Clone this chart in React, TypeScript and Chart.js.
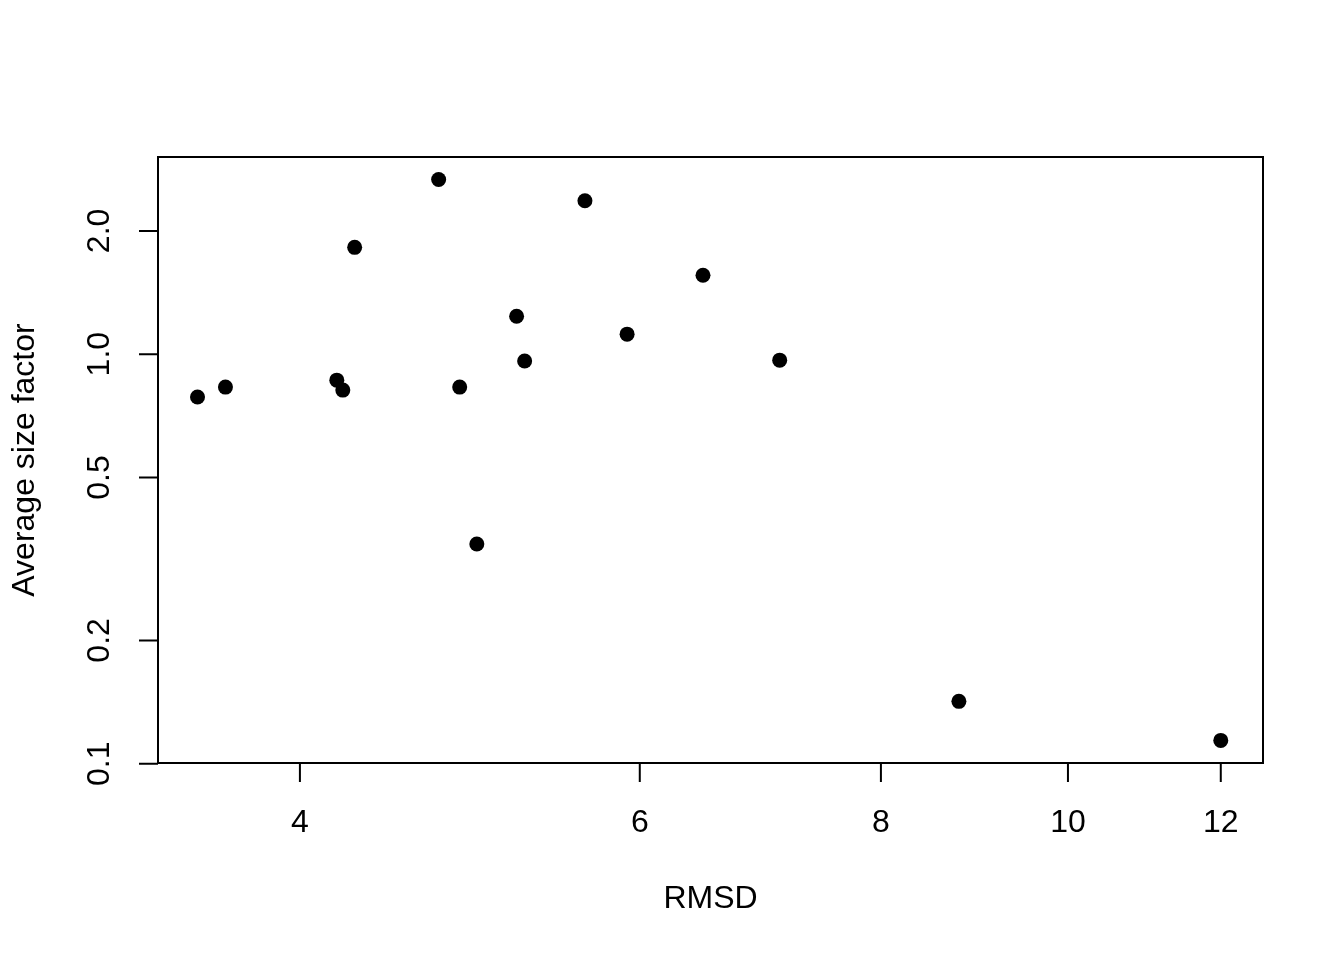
import React, { useEffect, useRef } from "react";
import { Chart, registerables } from "chart.js";

Chart.register(...registerables);

const rmsd = [3.54, 3.66, 4.18, 4.21, 4.27, 4.72, 4.84, 4.94, 5.18, 5.23, 5.62, 5.91, 6.47, 7.09, 8.78, 12.0];
const sizeFactor = [0.786, 0.831, 0.864, 0.817, 1.823, 2.67, 0.831, 0.344, 1.238, 0.962, 2.37, 1.119, 1.558, 0.967, 0.142, 0.114];
const xTicks = [4, 6, 8, 10, 12];
const yTicks = [0.1, 0.2, 0.5, 1, 2];
const yTickLabels = ["0.1", "0.2", "0.5", "1.0", "2.0"];
const xTitle = "RMSD";
const yTitle = "Average size factor";

const FONT = '32px "Liberation Sans", Arial, Helvetica, sans-serif';

const rAxes = {
  id: "rAxes",
  afterDraw(chart: any) {
    const { ctx, chartArea: a } = chart;
    const xs = chart.scales.x;
    const ys = chart.scales.y;
    ctx.save();
    ctx.strokeStyle = "#000";
    ctx.fillStyle = "#000";
    ctx.lineWidth = 2;
    ctx.strokeRect(a.left, a.top, a.right - a.left, a.bottom - a.top);
    ctx.font = FONT;
    const tl = 19;
    // x axis
    ctx.beginPath();
    ctx.moveTo(xs.getPixelForValue(xTicks[0]), a.bottom);
    ctx.lineTo(xs.getPixelForValue(xTicks[xTicks.length - 1]), a.bottom);
    xTicks.forEach((t) => {
      const px = xs.getPixelForValue(t);
      ctx.moveTo(px, a.bottom);
      ctx.lineTo(px, a.bottom + tl);
    });
    ctx.stroke();
    ctx.textAlign = "center";
    ctx.textBaseline = "middle";
    xTicks.forEach((t) => {
      ctx.fillText(String(t), xs.getPixelForValue(t), 823);
    });
    ctx.fillText(xTitle, (a.left + a.right) / 2, 899);
    // y axis
    ctx.beginPath();
    ctx.moveTo(a.left, ys.getPixelForValue(yTicks[0]));
    ctx.lineTo(a.left, ys.getPixelForValue(yTicks[yTicks.length - 1]));
    yTicks.forEach((t) => {
      const py = ys.getPixelForValue(t);
      ctx.moveTo(a.left, py);
      ctx.lineTo(a.left - tl, py);
    });
    ctx.stroke();
    yTicks.forEach((t, i) => {
      const py = ys.getPixelForValue(t);
      ctx.save();
      ctx.translate(100, py);
      ctx.rotate(-Math.PI / 2);
      ctx.fillText(yTickLabels[i], 0, 0);
      ctx.restore();
    });
    ctx.save();
    ctx.translate(25, (a.top + a.bottom) / 2);
    ctx.rotate(-Math.PI / 2);
    ctx.fillText(yTitle, 0, 0);
    ctx.restore();
    ctx.restore();
  },
};

export default function App() {
  const ref = useRef<HTMLCanvasElement>(null);
  useEffect(() => {
    if (!ref.current) return;
    const chart = new Chart(ref.current, {
      type: "scatter",
      data: {
        datasets: [
          {
            data: rmsd.map((x, i) => ({ x, y: sizeFactor[i] })),
            backgroundColor: "#000",
            borderWidth: 0,
            pointRadius: 7.5,
            pointHoverRadius: 7.5,
          },
        ],
      },
      options: {
        responsive: false,
        animation: false,
        events: [],
        layout: { padding: { left: 158, right: 81, top: 157, bottom: 197 } },
        plugins: { legend: { display: false }, tooltip: { enabled: false } },
        scales: {
          x: { type: "logarithmic", min: 3.377, max: 12.62, display: false },
          y: { type: "logarithmic", min: 0.1004, max: 3.03, display: false },
        },
      },
      plugins: [rAxes],
    });
    return () => chart.destroy();
  }, []);
  return (
    <div style={{ position: "absolute", left: 0, top: 0, background: "#fff" }}>
      <canvas ref={ref} width={1344} height={960} style={{ display: "block" }} />
    </div>
  );
}
